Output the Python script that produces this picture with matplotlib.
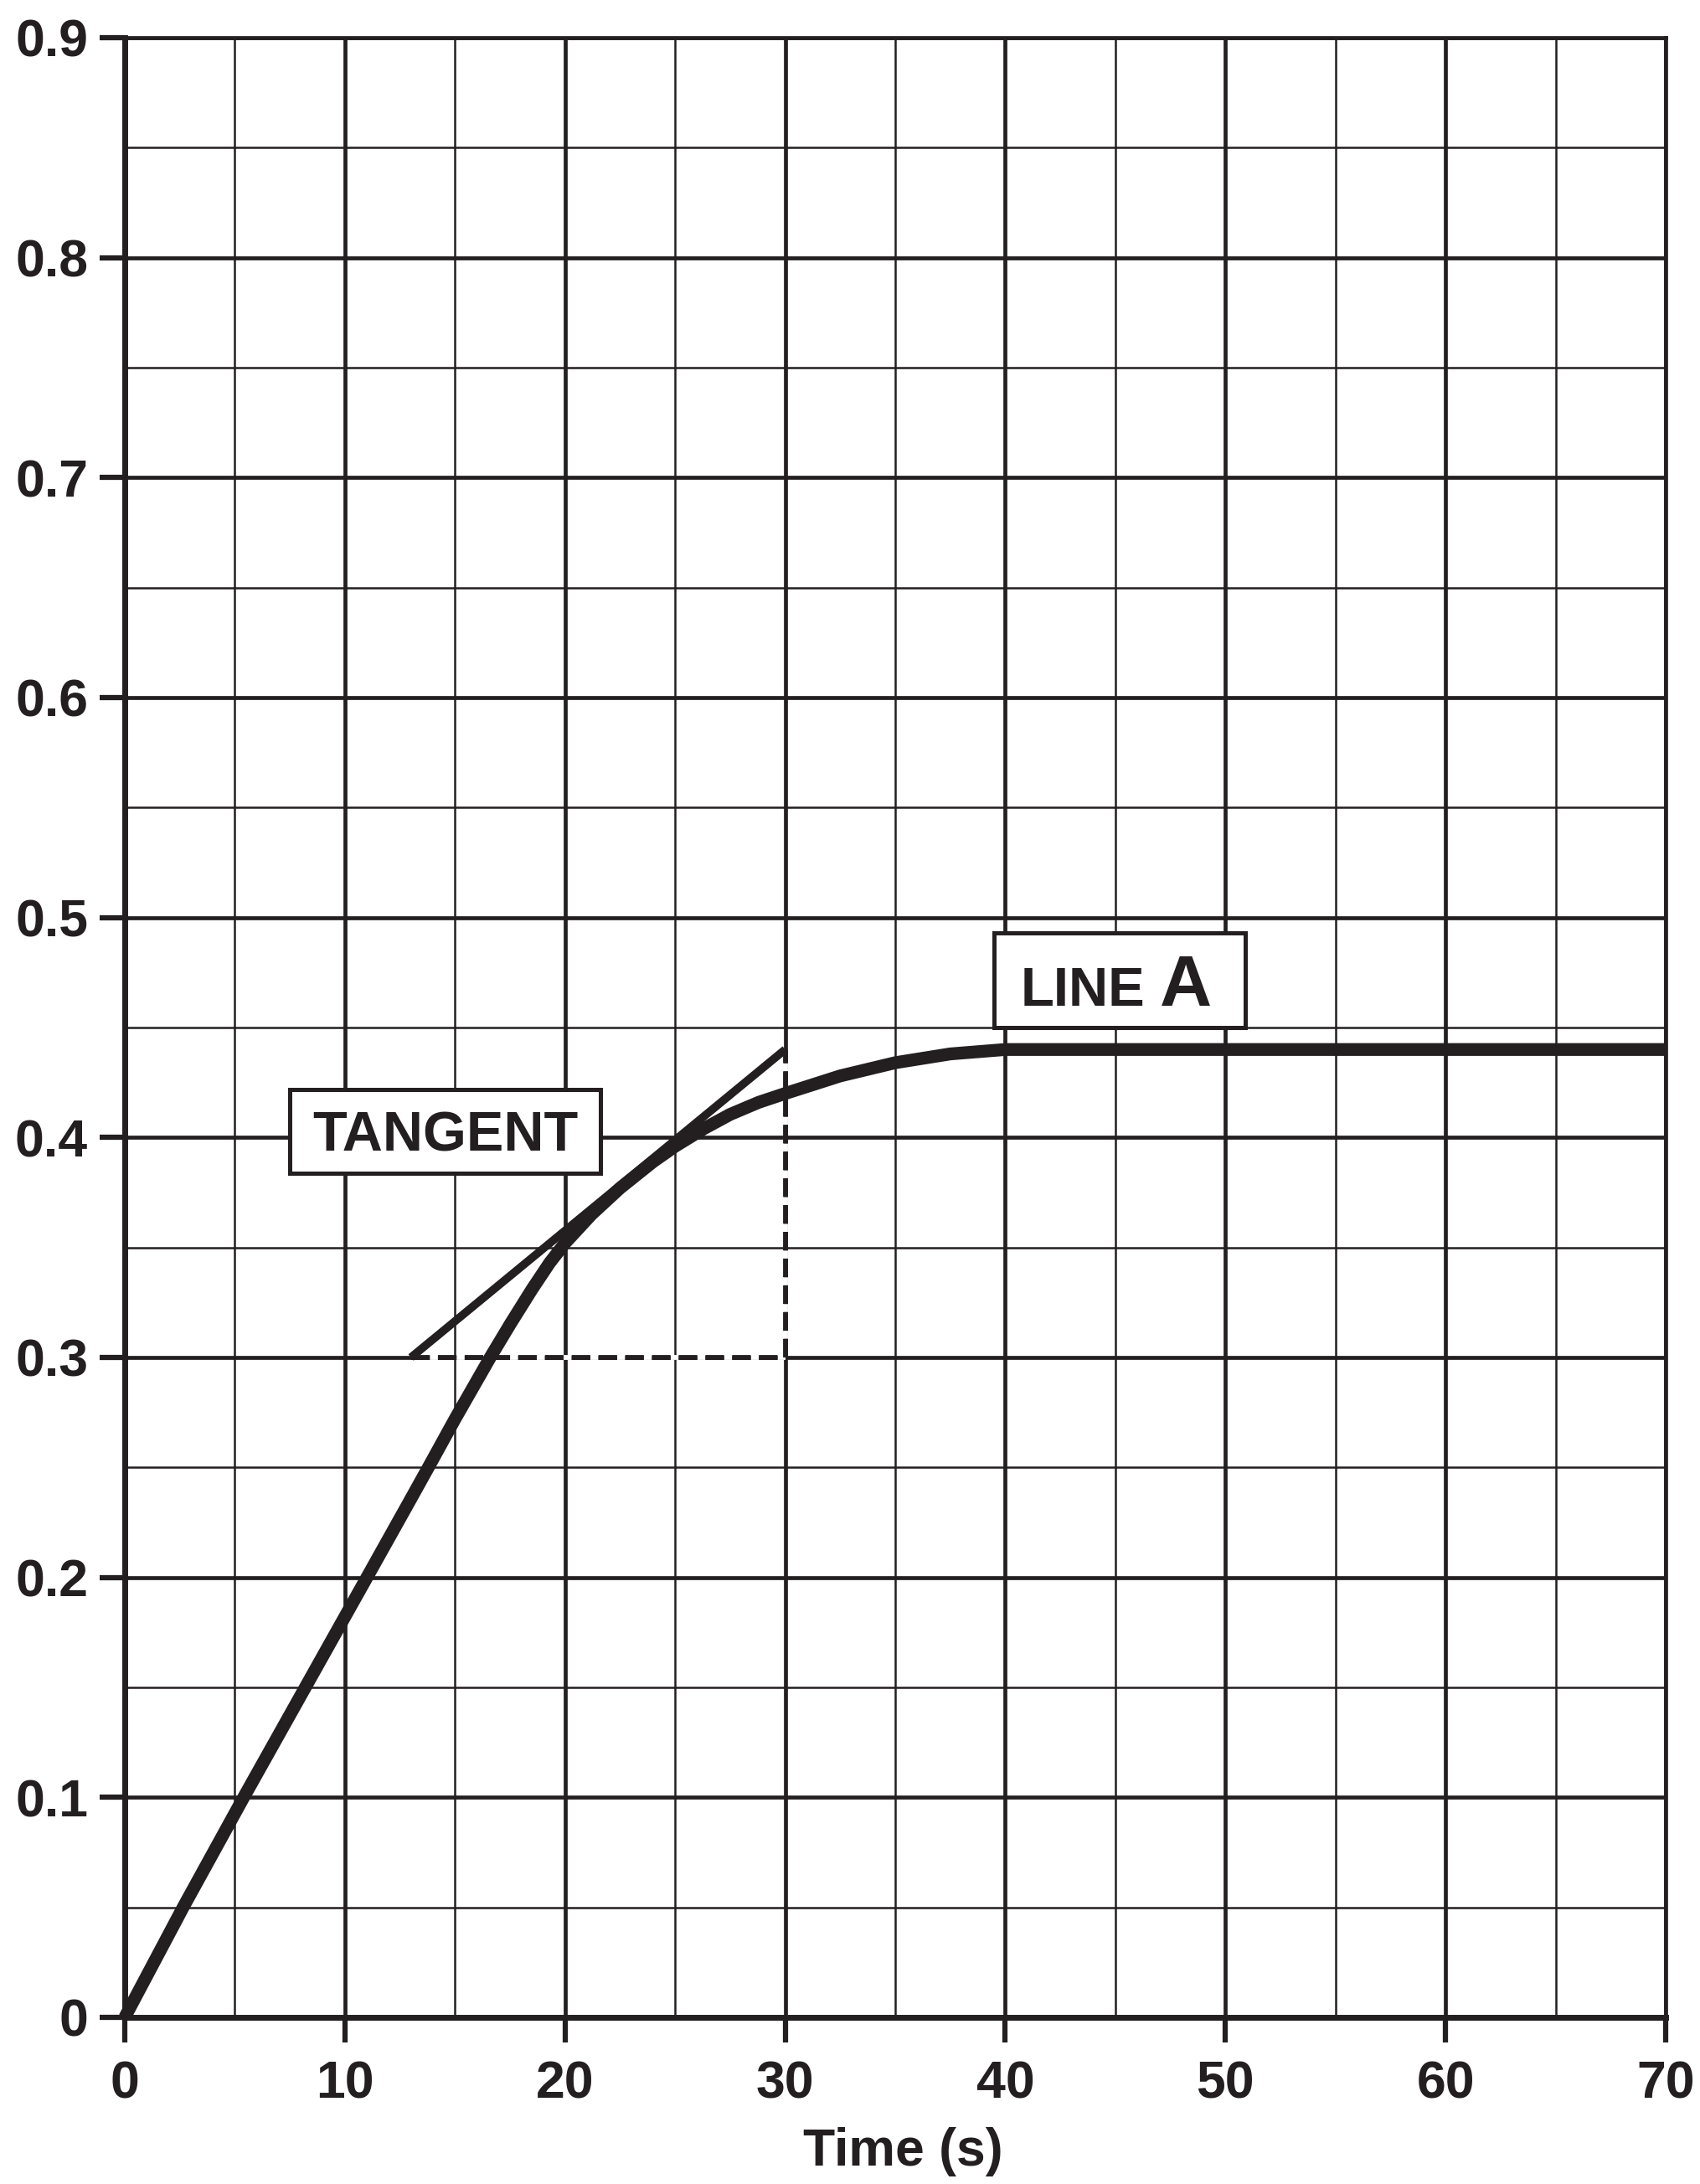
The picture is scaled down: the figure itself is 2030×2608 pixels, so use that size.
import matplotlib
matplotlib.use("Agg")
import matplotlib.pyplot as plt
from matplotlib.patches import Rectangle
import numpy as np

# --- data ---
time_s = [0, 2.65, 5.4, 8.2, 11.0, 12.9, 13.9, 15, 16.6, 17.5, 18.5, 19.3, 20,
          21.2, 22.5, 24, 25, 26.3, 27.5, 28.8, 30, 32.5, 35, 37.5, 40, 45, 50,
          55, 60, 65, 70]
response = [0, 0.05, 0.10, 0.15, 0.20, 0.234, 0.252, 0.272, 0.30, 0.315, 0.331,
            0.343, 0.352, 0.365, 0.377, 0.389, 0.396, 0.404, 0.4105, 0.416,
            0.420, 0.428, 0.434, 0.438, 0.440, 0.440, 0.440, 0.440, 0.440,
            0.440, 0.440]

tangent_x = [13, 30]
tangent_y = [0.30, 0.44]

x_ticks = [0, 10, 20, 30, 40, 50, 60, 70]
y_ticks = [0, 0.1, 0.2, 0.3, 0.4, 0.5, 0.6, 0.7, 0.8, 0.9]
y_labels = ["0", "0.1", "0.2", "0.3", "0.4", "0.5", "0.6", "0.7", "0.8", "0.9"]

INK = "#231f20"
FONT = "Liberation Sans"

plt.rcParams["font.family"] = [FONT, "DejaVu Sans"]
plt.rcParams["font.weight"] = "bold"
plt.rcParams["lines.scale_dashes"] = False

fig = plt.figure(figsize=(20.31, 26.08), dpi=100)
ax = fig.add_axes([149 / 2031, 1 - 2409 / 2608, (1989 - 149) / 2031, (2409 - 45) / 2608])

ax.set_xlim(0, 70)
ax.set_ylim(0, 0.9)

# grid (major every 10 s / 0.1, minor every 5 s / 0.05)
ax.set_xticks(x_ticks)
ax.set_xticks(np.arange(5, 70, 10), minor=True)
ax.set_yticks(y_ticks)
ax.set_yticklabels(y_labels)
ax.set_yticks(np.arange(0.05, 0.9, 0.1), minor=True)
ax.grid(which="major", color=INK, lw=3.4, zorder=1)
ax.grid(which="minor", color=INK, lw=1.8, zorder=1)
ax.set_axisbelow(True)

ax.tick_params(which="major", direction="out", length=21.6, width=4.5,
               color=INK, labelsize=45, labelcolor=INK)
ax.tick_params(axis="x", which="major", pad=15)
ax.tick_params(axis="y", which="major", pad=10)
ax.tick_params(which="minor", length=0)
for lbl in ax.get_xticklabels() + ax.get_yticklabels():
    lbl.set_fontweight("bold")

for side in ["left", "bottom"]:
    ax.spines[side].set_linewidth(5)
    ax.spines[side].set_color(INK)
for side in ["top", "right"]:
    ax.spines[side].set_linewidth(3.4)
    ax.spines[side].set_color(INK)

ax.set_xlabel("Time (s)", fontsize=45, fontweight="bold", color=INK, labelpad=15)
ax.xaxis.label.set_x(0.505)

# construction lines (dashes break the grid lines they sit on)
ax.plot([tangent_x[0], tangent_x[1]], [tangent_y[0], tangent_y[0]], color=INK,
        lw=4.2, dashes=(16, 7), gapcolor="white", zorder=3)
ax.plot([tangent_x[1], tangent_x[1]], [tangent_y[0], tangent_y[1]], color=INK,
        lw=4.2, dashes=(16, 7), gapcolor="white", zorder=3)
ax.plot(tangent_x, tangent_y, color=INK, lw=7, solid_capstyle="butt", zorder=4)

# response curve
ax.plot(time_s, response, color=INK, lw=11, solid_capstyle="butt",
        solid_joinstyle="round", clip_on=False, zorder=5)

# label boxes
ax.add_patch(Rectangle((7.49, 0.3836), 21.6 - 7.49, 0.4217 - 0.3836,
                       facecolor="white", edgecolor=INK, lw=3.6, zorder=6))
ax.text(14.55, 0.394, "TANGENT", ha="center", va="baseline", fontsize=48,
        fontweight="bold", color=INK, zorder=7)

ax.add_patch(Rectangle((39.5, 0.450), 50.9 - 39.5, 0.493 - 0.450,
                       facecolor="white", edgecolor=INK, lw=3.6, zorder=6))
ax.text(40.7, 0.4598, "LINE", ha="left", va="baseline", fontsize=47,
        fontweight="bold", color=INK, zorder=7)
ax.text(49.4, 0.4598, "A", ha="right", va="baseline", fontsize=62,
        fontweight="bold", color=INK, zorder=7)

fig.savefig("out.png", dpi=100, facecolor="white")
